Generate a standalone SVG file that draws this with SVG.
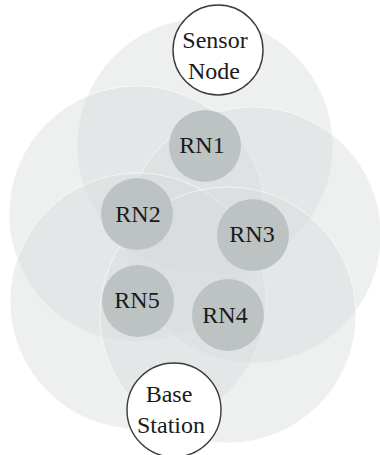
<svg xmlns="http://www.w3.org/2000/svg" width="380" height="455" viewBox="0 0 380 455">
  <style>
    .range { fill: #d6dcdc; fill-opacity: 0.42; stroke: #ffffff; stroke-opacity: 0.6; stroke-width: 1; }
    .relay { fill: #bdc2c2; }
    .end { fill: #ffffff; stroke: #3a3a3a; stroke-width: 1.4; }
    text { font-size: 24px; fill: #1a1a1a; text-anchor: middle; }
  </style>
  <rect width="380" height="455" fill="#ffffff"/>

  <!-- coverage ranges of the relay nodes -->
  <g id="coverage">
    <circle class="range" cx="205" cy="146" r="128"/>
    <circle class="range" cx="137" cy="214" r="128"/>
    <circle class="range" cx="253" cy="235" r="128"/>
    <circle class="range" cx="138" cy="301" r="128"/>
    <circle class="range" cx="228" cy="315" r="128"/>
  </g>

  <g id="connectors"></g>

  <g font-family="Liberation Serif, DejaVu Serif, serif">
    <g id="rn1">
      <circle class="relay" cx="205" cy="146" r="36"/>
      <text x="202" y="153">RN1</text>
    </g>
    <g id="rn2">
      <circle class="relay" cx="137" cy="214" r="36"/>
      <text x="138" y="222">RN2</text>
    </g>
    <g id="rn3">
      <circle class="relay" cx="253" cy="235" r="36"/>
      <text x="252" y="242">RN3</text>
    </g>
    <g id="rn5">
      <circle class="relay" cx="138" cy="301" r="36"/>
      <text x="137" y="308">RN5</text>
    </g>
    <g id="rn4">
      <circle class="relay" cx="228" cy="315" r="36"/>
      <text x="225" y="323">RN4</text>
    </g>

    <g id="sensor-node">
      <circle class="end" cx="218" cy="50" r="45"/>
      <text x="215" y="48">Sensor</text>
      <text x="214" y="79">Node</text>
    </g>

    <g id="base-station">
      <circle class="end" cx="174" cy="410" r="47"/>
      <text x="169" y="402">Base</text>
      <text x="171" y="433">Station</text>
    </g>
  </g>
</svg>
